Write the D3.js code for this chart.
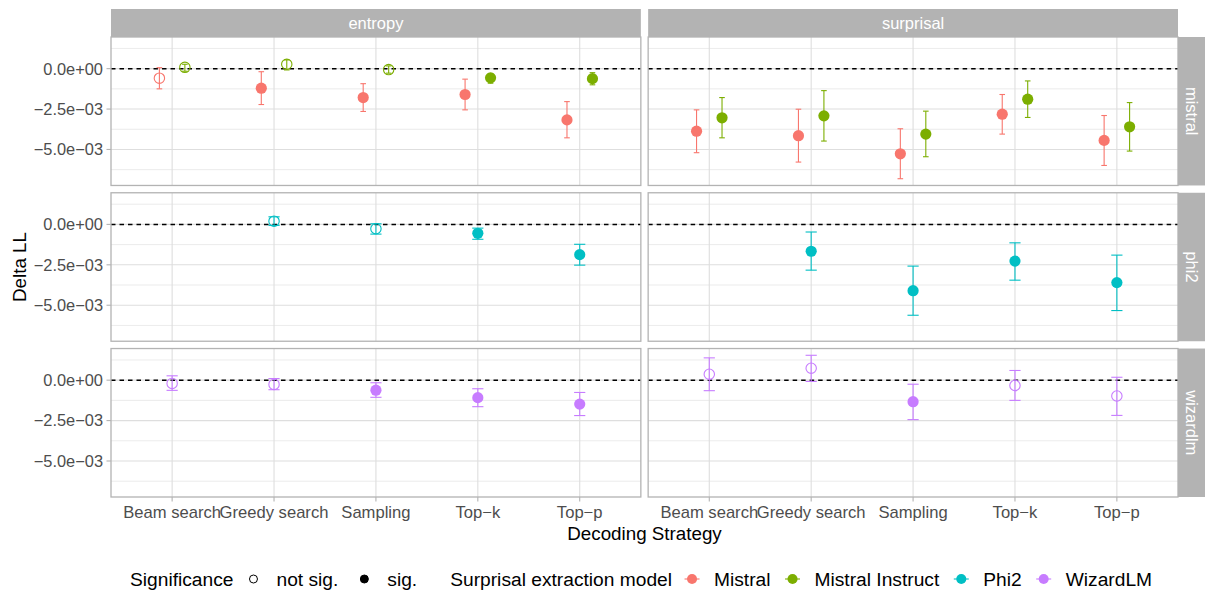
<!DOCTYPE html>
<html>
<head>
<meta charset="utf-8">
<script src="https://cdn.jsdelivr.net/npm/d3@7"></script>
<style>
  body { margin: 0; background: #fff; }
  svg { display: block; font-family: "Liberation Sans", Arial, sans-serif; }
</style>
</head>
<body>
<svg id="chart" width="1205" height="592"></svg>
<script>
// Delta LL by decoding strategy, faceted by metric (columns) and model (rows)
// values in units of 1e-3
const strategies = ["Beam search", "Greedy search", "Sampling", "Top-k", "Top-p"];
const metrics = ["entropy", "surprisal"];
const rowModels = ["mistral", "phi2", "wizardlm"];
const seriesNames = ["Mistral", "Mistral Instruct", "Phi2", "WizardLM"];
const seriesColors = ["#F8766D", "#7CAE00", "#00BFC4", "#C77CFF"];
const sigLabels = ["not sig.", "sig."];

// Mistral (row mistral)
const mistralEntropyEst = [-0.59, -1.21, -1.79, -1.60, -3.17];
const mistralEntropyLo  = [-1.25, -2.22, -2.65, -2.55, -4.28];
const mistralEntropyHi  = [0.06, -0.19, -0.93, -0.65, -2.04];
const mistralEntropySig = [0, 1, 1, 1, 1];
const mistralSurprisalEst = [-3.87, -4.15, -5.27, -2.82, -4.44];
const mistralSurprisalLo  = [-5.20, -5.78, -6.81, -4.05, -5.99];
const mistralSurprisalHi  = [-2.55, -2.51, -3.72, -1.60, -2.90];
const mistralSurprisalSig = [1, 1, 1, 1, 1];

// Mistral Instruct (row mistral)
const instructEntropyEst = [0.08, 0.27, -0.06, -0.57, -0.62];
const instructEntropyLo  = [-0.16, -0.08, -0.28, -0.90, -1.00];
const instructEntropyHi  = [0.27, 0.54, 0.17, -0.31, -0.25];
const instructEntropySig = [0, 0, 0, 1, 1];
const instructSurprisalEst = [-3.04, -2.92, -4.05, -1.89, -3.60];
const instructSurprisalLo  = [-4.28, -4.48, -5.45, -3.02, -5.10];
const instructSurprisalHi  = [-1.79, -1.36, -2.63, -0.76, -2.10];
const instructSurprisalSig = [1, 1, 1, 1, 1];

// Phi2 (row phi2), no beam search result
const phiEntropyEst = [null, 0.20, -0.27, -0.55, -1.87];
const phiEntropyLo  = [null, -0.06, -0.60, -0.92, -2.52];
const phiEntropyHi  = [null, 0.47, 0.04, -0.23, -1.23];
const phiEntropySig = [null, 0, 0, 1, 1];
const phiSurprisalEst = [null, -1.66, -4.10, -2.27, -3.60];
const phiSurprisalLo  = [null, -2.83, -5.62, -3.45, -5.33];
const phiSurprisalHi  = [null, -0.47, -2.58, -1.14, -1.90];
const phiSurprisalSig = [null, 1, 1, 1, 1];

// WizardLM (row wizardlm)
const wizardEntropyEst = [-0.20, -0.26, -0.62, -1.08, -1.48];
const wizardEntropyLo  = [-0.63, -0.59, -1.06, -1.64, -2.19];
const wizardEntropyHi  = [0.27, 0.10, -0.16, -0.53, -0.76];
const wizardEntropySig = [0, 0, 1, 1, 1];
const wizardSurprisalEst = [0.37, 0.74, -1.33, -0.33, -0.98];
const wizardSurprisalLo  = [-0.65, -0.08, -2.44, -1.25, -2.18];
const wizardSurprisalHi  = [1.38, 1.54, -0.25, 0.60, 0.18];
const wizardSurprisalSig = [0, 0, 1, 0, 0];

const yMajor = [-5.0, -2.5, 0.0];
const yMinor = [-6.25, -3.75, -1.25, 1.25];

// series: [seriesIndex, row, metric, est, lo, hi, sig]
const seriesTable = [
  [0, "mistral", "entropy", mistralEntropyEst, mistralEntropyLo, mistralEntropyHi, mistralEntropySig],
  [0, "mistral", "surprisal", mistralSurprisalEst, mistralSurprisalLo, mistralSurprisalHi, mistralSurprisalSig],
  [1, "mistral", "entropy", instructEntropyEst, instructEntropyLo, instructEntropyHi, instructEntropySig],
  [1, "mistral", "surprisal", instructSurprisalEst, instructSurprisalLo, instructSurprisalHi, instructSurprisalSig],
  [2, "phi2", "entropy", phiEntropyEst, phiEntropyLo, phiEntropyHi, phiEntropySig],
  [2, "phi2", "surprisal", phiSurprisalEst, phiSurprisalLo, phiSurprisalHi, phiSurprisalSig],
  [3, "wizardlm", "entropy", wizardEntropyEst, wizardEntropyLo, wizardEntropyHi, wizardEntropySig],
  [3, "wizardlm", "surprisal", wizardSurprisalEst, wizardSurprisalLo, wizardSurprisalHi, wizardSurprisalSig]
];

const points = [];
seriesTable.forEach(([s, row, metric, est, lo, hi, sig]) => {
  est.forEach((v, i) => {
    if (v === null) return;
    points.push({ s, row, metric, cat: strategies[i], est: v, lo: lo[i], hi: hi[i], sig: sig[i] });
  });
});

// ---------- layout ----------
const W = 1205, H = 592;
const plotL = 111, plotR = 1178, plotT = 37, plotB = 497;
const gap = 7.3, stripH = 28;
const panelW = (plotR - plotL - gap) / 2;
const panelH = (plotB - plotT - gap * 2) / 3;

const svg = d3.select("#chart");
svg.append("rect").attr("width", W).attr("height", H).attr("fill", "#fff");

// y scale with 5% expansion of the data range
const allVals = points.flatMap(d => [d.lo, d.hi]);
const yMin = d3.min(allVals), yMax = d3.max(allVals);
const pad = (yMax - yMin) * 0.05;
const y = d3.scaleLinear().domain([yMin - pad, yMax + pad]).range([panelH, 0]);

const x = d3.scalePoint().domain(strategies).range([0, panelW]).padding(0.6);
const step = x.step();

const minus = s => s.replace(/-/g, "\u2212");
function fmtSci(v) {
  if (v === 0) return "0.0e+00";
  const val = v * 1e-3;
  const [m, e] = val.toExponential(1).split("e");
  const ex = parseInt(e, 10);
  return minus(m) + "e" + (ex < 0 ? "\u2212" : "+") + String(Math.abs(ex)).padStart(2, "0");
}

const tickColor = "#4D4D4D";
const borderColor = "#B3B3B3";

rowModels.forEach((rowName, ri) => {
  metrics.forEach((metric, ci) => {
    const px = plotL + ci * (panelW + gap);
    const py = plotT + ri * (panelH + gap);
    const g = svg.append("g").attr("transform", `translate(${px},${py})`);

    // grid
    g.selectAll(".minor").data(yMinor).join("line")
      .attr("x1", 0).attr("x2", panelW)
      .attr("y1", d => y(d)).attr("y2", d => y(d))
      .attr("stroke", "#E6E6E6").attr("stroke-width", 0.8);
    g.selectAll(".major").data(yMajor).join("line")
      .attr("x1", 0).attr("x2", panelW)
      .attr("y1", d => y(d)).attr("y2", d => y(d))
      .attr("stroke", "#DEDEDE").attr("stroke-width", 1.1);
    g.selectAll(".vmajor").data(strategies).join("line")
      .attr("x1", d => x(d)).attr("x2", d => x(d))
      .attr("y1", 0).attr("y2", panelH)
      .attr("stroke", "#DEDEDE").attr("stroke-width", 1.1);

    // zero reference
    g.append("line")
      .attr("x1", 0).attr("x2", panelW)
      .attr("y1", y(0)).attr("y2", y(0))
      .attr("stroke", "#000").attr("stroke-width", 1.5)
      .attr("stroke-dasharray", "4.5,4");

    // marks
    const pts = points.filter(d => d.row === rowName && d.metric === metric);
    const groups = Array.from(new Set(pts.map(d => d.s))).sort();
    const n = groups.length;
    const dodgeW = step * 0.5;
    const capW = step * 0.11 / n;
    const xpos = d => x(d.cat) + (n > 1 ? (groups.indexOf(d.s) - (n - 1) / 2) * dodgeW / n : 0);

    const mg = g.append("g");
    pts.forEach(d => {
      const cx = xpos(d);
      const col = seriesColors[d.s];
      const eg = mg.append("g").attr("stroke", col).attr("stroke-width", 1.1).attr("fill", "none");
      eg.append("line").attr("x1", cx).attr("x2", cx).attr("y1", y(d.lo)).attr("y2", y(d.hi));
      eg.append("line").attr("x1", cx - capW / 2).attr("x2", cx + capW / 2).attr("y1", y(d.lo)).attr("y2", y(d.lo));
      eg.append("line").attr("x1", cx - capW / 2).attr("x2", cx + capW / 2).attr("y1", y(d.hi)).attr("y2", y(d.hi));
      if (d.sig) {
        mg.append("circle").attr("cx", cx).attr("cy", y(d.est)).attr("r", 5.6).attr("fill", col);
      } else {
        mg.append("circle").attr("cx", cx).attr("cy", y(d.est)).attr("r", 5.2)
          .attr("fill", "none").attr("stroke", col).attr("stroke-width", 1.1);
      }
    });

    // border
    g.append("rect").attr("width", panelW).attr("height", panelH)
      .attr("fill", "none").attr("stroke", borderColor).attr("stroke-width", 1.3);

    // y axis on left column
    if (ci === 0) {
      yMajor.forEach(v => {
        g.append("line").attr("x1", -4.5).attr("x2", 0).attr("y1", y(v)).attr("y2", y(v))
          .attr("stroke", borderColor).attr("stroke-width", 1.1);
        g.append("text").attr("x", -8).attr("y", y(v)).attr("dy", "0.36em")
          .attr("text-anchor", "end").attr("font-size", 16.4).attr("fill", tickColor)
          .text(fmtSci(v));
      });
    }
    // x axis on bottom row
    if (ri === rowModels.length - 1) {
      strategies.forEach(c => {
        g.append("line").attr("x1", x(c)).attr("x2", x(c)).attr("y1", panelH).attr("y2", panelH + 4.5)
          .attr("stroke", borderColor).attr("stroke-width", 1.1);
        g.append("text").attr("x", x(c)).attr("y", panelH + 21)
          .attr("text-anchor", "middle").attr("font-size", 16.6).attr("fill", tickColor)
          .text(minus(c));
      });
    }
    // top strips
    if (ri === 0) {
      svg.append("rect").attr("x", px).attr("y", plotT - stripH).attr("width", panelW).attr("height", stripH)
        .attr("fill", borderColor);
      svg.append("text").attr("x", px + panelW / 2).attr("y", plotT - stripH / 2).attr("dy", "0.36em")
        .attr("text-anchor", "middle").attr("font-size", 16.5).attr("fill", "#fff").text(metric);
    }
    // right strips
    if (ci === metrics.length - 1) {
      svg.append("rect").attr("x", plotR).attr("y", py).attr("width", stripH).attr("height", panelH)
        .attr("fill", borderColor);
      svg.append("text")
        .attr("transform", `translate(${plotR + stripH / 2},${py + panelH / 2}) rotate(90)`)
        .attr("dy", "0.36em").attr("text-anchor", "middle").attr("font-size", 16.5).attr("fill", "#fff")
        .text(rowName);
    }
  });
});

// axis titles
svg.append("text")
  .attr("transform", `translate(19,${(plotT + plotB) / 2}) rotate(-90)`)
  .attr("dy", "0.36em").attr("text-anchor", "middle").attr("font-size", 18.8).attr("fill", "#000")
  .text("Delta LL");
svg.append("text")
  .attr("x", (plotL + plotR) / 2).attr("y", 540)
  .attr("text-anchor", "middle").attr("font-size", 18.8).attr("fill", "#000")
  .text("Decoding Strategy");

// ---------- legend ----------
const legY = 579;
const legFont = 19.2;
const leg = svg.append("g");
let cx = 130;
function addText(t) {
  const el = leg.append("text").attr("x", cx).attr("y", legY).attr("dy", "0.36em")
    .attr("font-size", legFont).attr("fill", "#000").text(t);
  cx += el.node().getComputedTextLength();
}
addText("Significance");
cx += 20;
sigLabels.forEach((lab, i) => {
  leg.append("circle").attr("cx", cx).attr("cy", legY).attr("r", 4)
    .attr("fill", i ? "#000" : "#fff").attr("stroke", "#000").attr("stroke-width", 1);
  cx += 23;
  addText(lab);
  cx += 26;
});
cx += 7;
addText("Surprisal extraction model");
cx += 20;
seriesNames.forEach((lab, i) => {
  leg.append("line").attr("x1", cx - 7.5).attr("x2", cx + 7.5).attr("y1", legY).attr("y2", legY)
    .attr("stroke", seriesColors[i]).attr("stroke-width", 1.1);
  leg.append("circle").attr("cx", cx).attr("cy", legY).attr("r", 5).attr("fill", seriesColors[i]);
  cx += 22;
  addText(lab);
  cx += 22;
});
</script>
</body>
</html>
